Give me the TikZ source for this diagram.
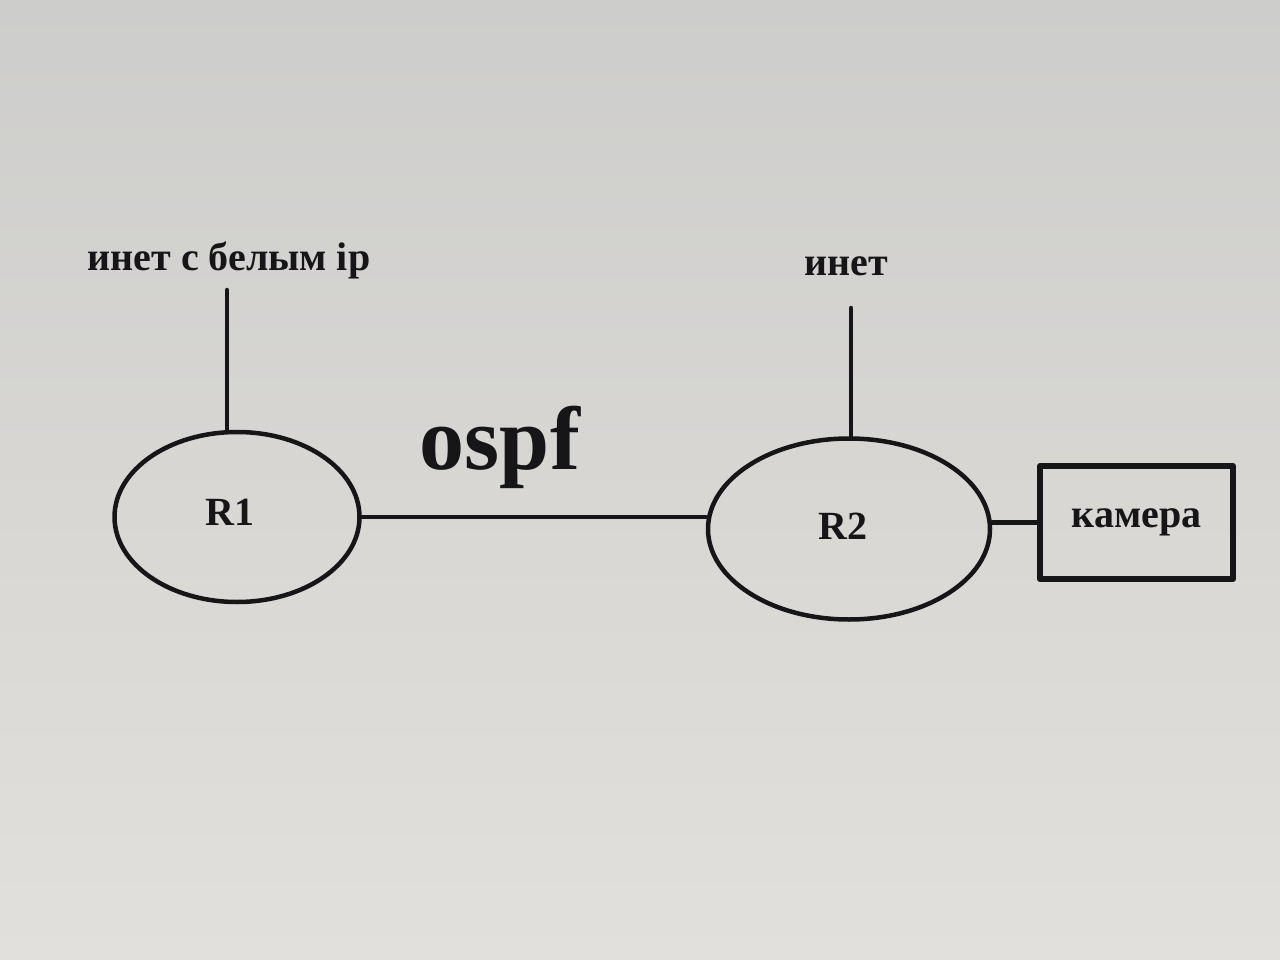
\documentclass[tikz,border=0pt]{standalone}
\usepackage{fontspec}
\setmainfont{Liberation Serif}
\usetikzlibrary{shapes.geometric}
\usetikzlibrary{positioning}
\definecolor{screentop}{RGB}{205,205,203}
\definecolor{screenmid}{RGB}{234,234,231}
\definecolor{screenbot}{RGB}{226,224,220}
\definecolor{ink}{RGB}{22,22,24}
\begin{document}
\begin{tikzpicture}[x=1pt,y=-1pt,line cap=round,line join=round,
router/.style={draw=ink,ellipse,line width=4.5pt,inner sep=0pt},
device/.style={draw=ink,rectangle,line width=6pt,inner sep=0pt,text=ink,font=\fontsize{40}{48}\selectfont\bfseries},
caption/.style={text=ink,inner sep=0pt,font=\fontsize{40}{48}\selectfont\bfseries},
link/.style={draw=ink,line width=4.5pt}]
\shade[top color=screentop,middle color=screenmid,bottom color=screenbot] (0,0) rectangle (1280,960);
\useasboundingbox (0,0) rectangle (1280,960);
% routers and camera
\node[router,minimum width=245pt,minimum height=170pt] (R1) at (237,517) {};
\node[router,minimum width=282pt,minimum height=181pt] (R2) at (849,529) {};
\node[caption] (nameR1) at (230,512) {R1};
\node[caption] (nameR2) at (843,526) {R2};
\node[device,minimum width=193pt,minimum height=113pt] (cam) at (1136.5,522.5) {камера};
% uplinks
\node[caption] (inetR1) at (229,260) {инет с белым ip};
\node[caption] (inetR2) at (846,266) {инет};
\coordinate (upR1) at (227,290);
\coordinate (upR2) at (851,308);
\draw[link] (upR1) -- (upR1 |- R1.north);
\draw[link] (upR2) -- (upR2 |- R2.north);
% links
\draw[link] (R1.east) -- (R1.east -| R2.west);
\draw[link] (cam.west -| R2.east) -- (cam.west);
\node[caption,font=\fontsize{90}{100}\selectfont\bfseries] (ospf) at (500,447) {ospf};
\end{tikzpicture}
\end{document}
